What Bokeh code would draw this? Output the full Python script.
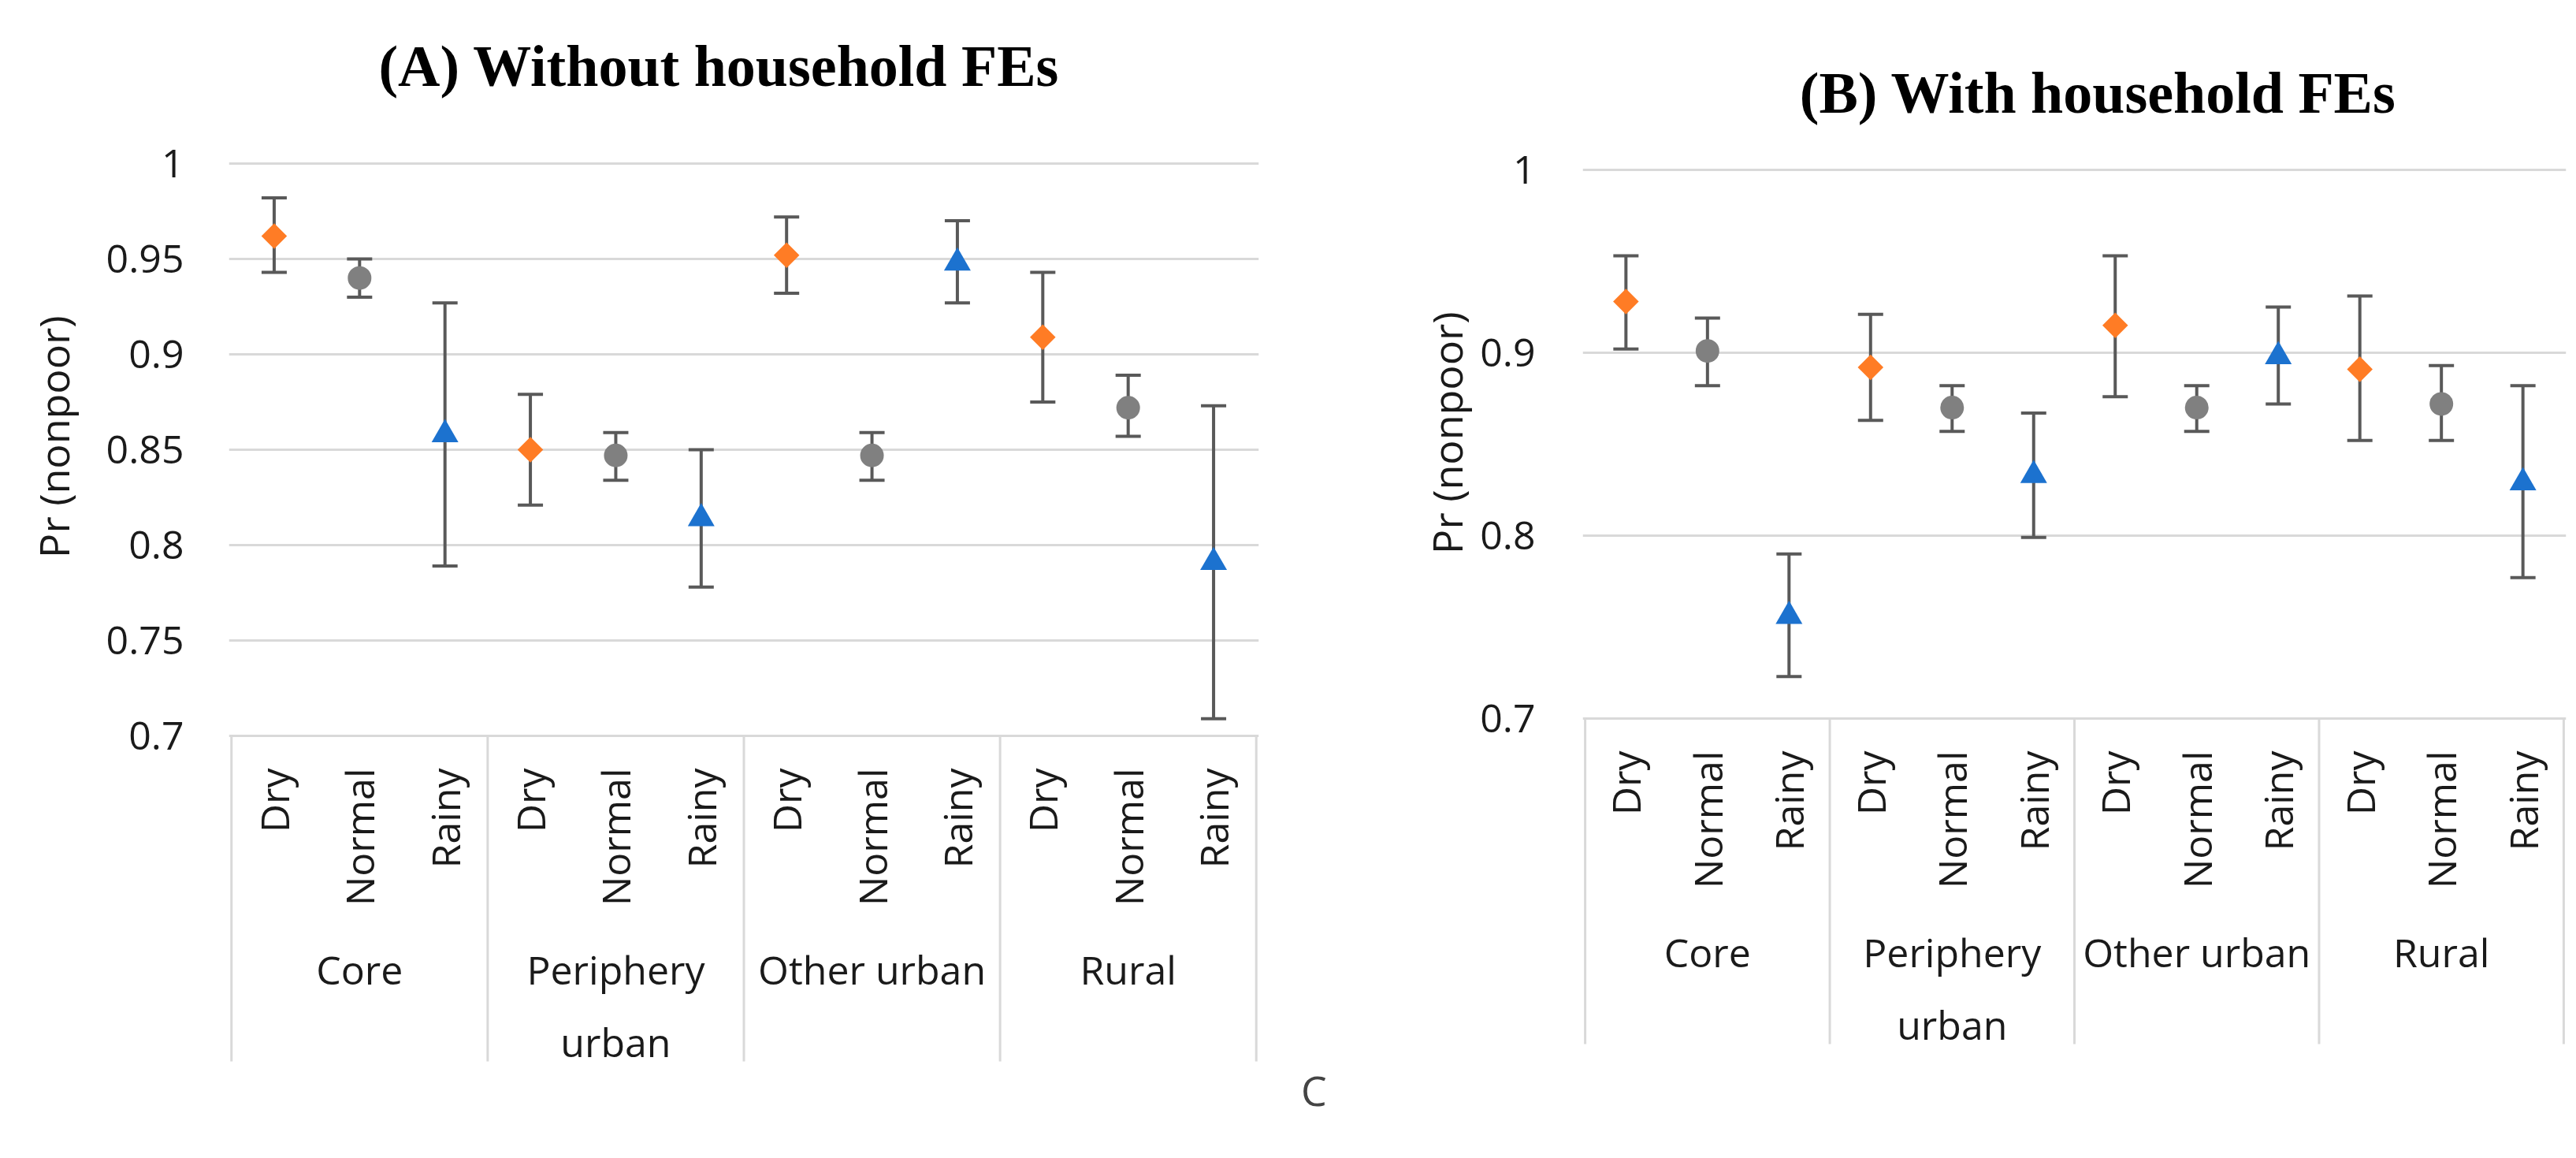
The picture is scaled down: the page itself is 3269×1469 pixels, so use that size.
import math
from bokeh.plotting import figure
from bokeh.models import (FactorRange, Range1d, FixedTicker, ColumnDataSource,
                          Title, Label, NumeralTickFormatter, Div)
from bokeh.layouts import row, column
from bokeh.core.properties import value
from bokeh.embed import file_html
from bokeh.resources import INLINE

# ---------------- data ----------------
groups = ["Core", "Periphery urban", "Other urban", "Rural"]
group_labels = ["Core", "Periphery\nurban", "Other urban", "Rural"]
seasons = ["Dry", "Normal", "Rainy"]

# Panel A: without household FEs
a_dry = [0.962, 0.850, 0.952, 0.909]
a_dry_lo = [0.943, 0.821, 0.932, 0.875]
a_dry_hi = [0.982, 0.879, 0.972, 0.943]
a_normal = [0.940, 0.847, 0.847, 0.872]
a_normal_lo = [0.930, 0.834, 0.834, 0.857]
a_normal_hi = [0.950, 0.859, 0.859, 0.889]
a_rainy = [0.858, 0.814, 0.948, 0.791]
a_rainy_lo = [0.789, 0.778, 0.927, 0.709]
a_rainy_hi = [0.927, 0.850, 0.970, 0.873]
a_ticks = [0.7, 0.75, 0.8, 0.85, 0.9, 0.95, 1.0]
a_tick_labels = ["0.7", "0.75", "0.8", "0.85", "0.9", "0.95", "1"]

# Panel B: with household FEs
b_dry = [0.928, 0.892, 0.915, 0.891]
b_dry_lo = [0.902, 0.863, 0.876, 0.852]
b_dry_hi = [0.953, 0.921, 0.953, 0.931]
b_normal = [0.901, 0.870, 0.870, 0.872]
b_normal_lo = [0.882, 0.857, 0.857, 0.852]
b_normal_hi = [0.919, 0.882, 0.882, 0.893]
b_rainy = [0.756, 0.833, 0.898, 0.829]
b_rainy_lo = [0.723, 0.799, 0.872, 0.777]
b_rainy_hi = [0.790, 0.867, 0.925, 0.882]
b_ticks = [0.7, 0.8, 0.9, 1.0]
b_tick_labels = ["0.7", "0.8", "0.9", "1"]

# stray caption fragment below panel A
stray_text = "C"

# ---------------- style / layout ----------------
FONT = "Open Sans"
TITLE_FONT = "Liberation Serif"
TEXT_COLOR = "#1a1a1a"
GRID_COLOR = "#D9D9D9"
ERR_COLOR = "#595959"
COLORS = {"Dry": "#FF7C25", "Normal": "#808080", "Rainy": "#1C72CF"}

PAGE_MARGIN = 8
PAGE_BOTTOM = 1461
FRAME_TOP = 16        # page px, shared by both panels
X_PAD = 0.03          # absolute padding of the factor range


def make_panel(title, series, ticks, tick_labels, g):
    factors = [(grp, s) for grp in groups for s in seasons]
    x_range = FactorRange(factors=factors, group_padding=0, subgroup_padding=0,
                          factor_padding=0, range_padding=X_PAD,
                          range_padding_units="absolute")
    floor, top = ticks[0], ticks[-1]
    ppu = (g["y_floor"] - g["y_top"]) / (top - floor)
    frame_bottom = g["frame_bottom"]
    y_range = Range1d(floor - (frame_bottom - g["y_floor"]) / ppu,
                      top + (g["y_top"] - FRAME_TOP) / ppu)
    frame_h = frame_bottom - FRAME_TOP
    sep_bottom = floor - g["sep_px"] / ppu

    p = figure(x_range=x_range, y_range=y_range,
               frame_width=g["frame_w"], frame_height=frame_h,
               min_border_left=g["frame_left"] - g["fig_left"],
               min_border_right=g["fig_right"] - g["frame_left"] - g["frame_w"],
               min_border_top=FRAME_TOP - PAGE_MARGIN,
               min_border_bottom=g["fig_bottom"] - frame_bottom,
               x_axis_location=None, output_backend="svg", toolbar_location=None)
    p.outline_line_color = None
    p.background_fill_color = "white"
    p.border_fill_color = "white"

    # y axis
    ax = p.yaxis[0]
    ticker = FixedTicker(ticks=ticks)
    ax.ticker = ticker
    ax.formatter = NumeralTickFormatter(format="0.[00]")
    ax.major_label_overrides = {t: lab for t, lab in zip(ticks, tick_labels)}
    ax.axis_line_color = None
    ax.major_tick_line_color = None
    ax.minor_tick_line_color = None
    ax.major_tick_out = 0
    ax.major_label_standoff = g["label_standoff"]
    ax.major_label_text_font = FONT
    ax.major_label_text_font_size = "50px"
    ax.major_label_text_color = TEXT_COLOR

    p.add_layout(Title(text="Pr (nonpoor)", align="right",
                       offset=g["ylab_top"] - FRAME_TOP,
                       standoff=g["ylab_standoff"], vertical_align="bottom",
                       text_font=FONT, text_font_size="52px", text_font_style="normal",
                       text_color=TEXT_COLOR), "left")

    p.xgrid.visible = False
    p.ygrid.ticker = ticker
    p.ygrid.grid_line_color = GRID_COLOR
    p.ygrid.grid_line_width = 3

    # chart title, placed above the top gridline
    n = len(factors)
    x_per_px = (n + X_PAD) / g["frame_w"]
    title_x = (g["title_cx"] - g["frame_left"]) * x_per_px - X_PAD / 2
    title_y = top + (g["y_top"] - g["title_base"]) / ppu
    p.add_layout(Label(x=title_x, y=title_y, text=title, text_align="center",
                       text_baseline="alphabetic", text_font=TITLE_FONT,
                       text_font_size="74px", text_font_style="bold",
                       text_color="#000000"))

    # category separators (group boundaries and outer edges)
    bounds = [(groups[0], seasons[0], -0.5)] + [(grp, seasons[-1], 0.5) for grp in groups]
    p.segment(x0=bounds, x1=bounds, y0=[floor] * len(bounds),
              y1=[sep_bottom] * len(bounds), line_color=GRID_COLOR, line_width=3)

    # error bars
    for s in seasons:
        mean, lo, hi = series[s]
        src = ColumnDataSource(dict(x=[(grp, s) for grp in groups], y=mean, lo=lo, hi=hi))
        p.segment(x0="x", x1="x", y0="lo", y1="hi", source=src,
                  line_color=ERR_COLOR, line_width=4)
        p.scatter(x="x", y="hi", marker="dash", size=32, source=src,
                  line_color=ERR_COLOR, line_width=4)
        p.scatter(x="x", y="lo", marker="dash", size=32, source=src,
                  line_color=ERR_COLOR, line_width=4)
    # markers
    for s in seasons:
        mean, lo, hi = series[s]
        src = ColumnDataSource(dict(x=[(grp, s) for grp in groups], y=mean))
        if s == "Dry":
            p.scatter(x="x", y="y", marker="square", angle=math.pi / 4, size=23,
                      source=src, fill_color=COLORS[s], line_color=None)
        elif s == "Normal":
            p.scatter(x="x", y="y", marker="circle", size=30, source=src,
                      fill_color=COLORS[s], line_color=None)
        else:
            p.scatter(x="x", y="y", marker="triangle", size=34, source=src,
                      fill_color=COLORS[s], line_color=None)

    # category labels
    sub_src = ColumnDataSource(dict(x=factors, y=[floor] * len(factors),
                                    text=[f[1] for f in factors]))
    p.text(x="x", y="y", text="text", source=sub_src, angle=math.pi / 2,
           text_align="right", text_baseline="middle", y_offset=41,
           text_font=value(FONT), text_font_size="50px", text_color=TEXT_COLOR)
    grp_src = ColumnDataSource(dict(x=groups, y=[floor] * len(groups), text=group_labels))
    p.text(x="x", y="y", text="text", source=grp_src, text_align="center",
           text_baseline="top", y_offset=g["grp_offset"], text_line_height=1.36,
           text_font=value(FONT), text_font_size="50px", text_color=TEXT_COLOR)
    return p


# page-pixel geometry
geom_a = dict(fig_left=8, fig_right=1700, frame_left=269, frame_w=1307,
              y_top=215, y_floor=941, sep_px=413, frame_bottom=1365, fig_bottom=1365,
              title_cx=891, title_base=91, label_standoff=57,
              ylab_top=408, ylab_standoff=58, grp_offset=262)
geom_b = dict(fig_left=1700, fig_right=3261, frame_left=1987, frame_w=1248,
              y_top=223, y_floor=919, sep_px=413, frame_bottom=1453, fig_bottom=PAGE_BOTTOM,
              title_cx=2641, title_base=125, label_standoff=60,
              ylab_top=403, ylab_standoff=10, grp_offset=262)

pa = make_panel("(A) Without household FEs",
                {"Dry": (a_dry, a_dry_lo, a_dry_hi),
                 "Normal": (a_normal, a_normal_lo, a_normal_hi),
                 "Rainy": (a_rainy, a_rainy_lo, a_rainy_hi)},
                a_ticks, a_tick_labels, geom_a)
pb = make_panel("(B) With household FEs",
                {"Dry": (b_dry, b_dry_lo, b_dry_hi),
                 "Normal": (b_normal, b_normal_lo, b_normal_hi),
                 "Rainy": (b_rainy, b_rainy_lo, b_rainy_hi)},
                b_ticks, b_tick_labels, geom_b)

# strip below panel A holding the stray caption glyph
strip_w = geom_a["fig_right"] - geom_a["fig_left"]
strip_h = PAGE_BOTTOM - geom_a["fig_bottom"]
c_left = 1659 - geom_a["fig_left"]
strip = Div(text=('<div style="margin:0;padding:0;margin-left:%dpx;'
                  "font-family:'Open Sans';font-size:52px;line-height:52px;"
                  'color:#444444;">%s</div>') % (c_left, stray_text),
            width=strip_w, height=strip_h, margin=0)

layout = row(column(pa, strip), pb)
open("out.html", "w").write(file_html(layout, INLINE))
